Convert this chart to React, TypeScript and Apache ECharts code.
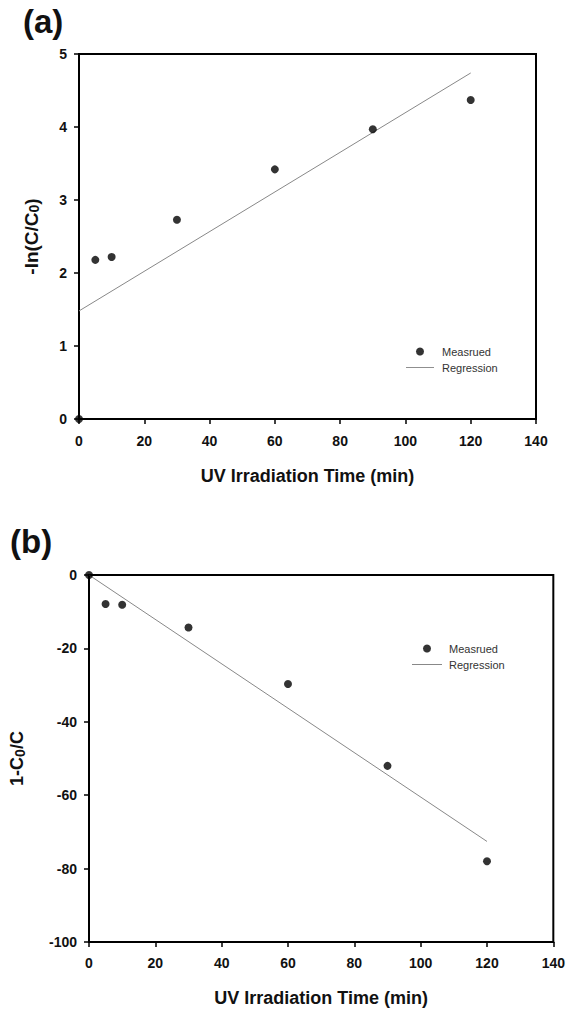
import React, { useEffect, useRef } from "react";
import * as echarts from "echarts";

// Panel (a): -ln(C/C0) vs time
const timeA = [0, 5, 10, 30, 60, 90, 120];
const measuredA = [0, 2.18, 2.22, 2.73, 3.42, 3.97, 4.37];
const regressionTimeA = [0, 120];
const regressionA = [1.48, 4.74];

// Panel (b): 1-C0/C vs time
const timeB = [0, 5, 10, 30, 60, 90, 120];
const measuredB = [0, -7.9, -8.1, -14.3, -29.7, -52, -78];
const regressionTimeB = [0, 120];
const regressionB = [0, -72.6];

const FONT = "Liberation Sans, Arial, sans-serif";
const LINE_ICON = "path://M0,0 L30,0 L30,1 L0,1 Z";

export default function App() {
  const ref = useRef<HTMLDivElement>(null);
  useEffect(() => {
    document.body.style.margin = "0";
    const chart = echarts.init(ref.current!, null, { renderer: "svg" });
    const axisCommon = {
      axisLine: { show: true, onZero: false, lineStyle: { color: "#000", width: 2 } },
      axisTick: { show: true, inside: false, length: 5, lineStyle: { color: "#000", width: 1.5 } },
      splitLine: { show: false },
      axisLabel: { color: "#111", fontFamily: FONT, fontWeight: "bold" as const, fontSize: 14 },
      nameLocation: "middle" as const,
    };
    const pairs = (xs: number[], ys: number[]) => xs.map((x, i) => [x, ys[i]]);
    const legendData = [
      { name: "Measrued", icon: "circle", itemStyle: { color: "#000" } },
      { name: "Regression", icon: LINE_ICON, itemStyle: { color: "#888" } },
    ];
    chart.setOption({
      animation: false,
      backgroundColor: "#fff",
      textStyle: { fontFamily: FONT },
      title: [
        { text: "(a)", left: 23, top: 5, padding: 0, textStyle: { fontSize: 33, fontWeight: "bold", color: "#111", fontFamily: FONT } },
        { text: "(b)", left: 10, top: 525, padding: 0, textStyle: { fontSize: 33, fontWeight: "bold", color: "#111", fontFamily: FONT } },
      ],
      grid: [
        { left: 79, top: 54, width: 457, height: 365, show: true, borderColor: "#000", borderWidth: 2, containLabel: false },
        { left: 89, top: 575, width: 465, height: 367, show: true, borderColor: "#000", borderWidth: 2, containLabel: false },
      ],
      legend: [
        {
          data: legendData,
          orient: "vertical", left: 406, top: 346, padding: 0, itemWidth: 28, itemHeight: 8, itemGap: 5,
          textStyle: { fontSize: 11, color: "#333", fontFamily: FONT, padding: [0, 0, 0, 3] },
          selectedMode: false,
        },
        {
          data: legendData,
          orient: "vertical", left: 412, top: 643, padding: 0, itemWidth: 30, itemHeight: 8, itemGap: 5,
          textStyle: { fontSize: 11, color: "#333", fontFamily: FONT, padding: [0, 0, 0, 2] },
          selectedMode: false,
        },
      ],
      xAxis: [
        {
          ...axisCommon, type: "value", gridIndex: 0, min: 0, max: 140, interval: 20,
          axisLabel: { ...axisCommon.axisLabel, margin: 15 },
          name: "UV Irradiation Time (min)", nameGap: 48,
          nameTextStyle: { fontSize: 18, fontWeight: "bold", color: "#111", fontFamily: FONT },
        },
        {
          ...axisCommon, type: "value", gridIndex: 1, min: 0, max: 140, interval: 20,
          axisLabel: { ...axisCommon.axisLabel, margin: 14 },
          name: "UV Irradiation Time (min)", nameGap: 47,
          nameTextStyle: { fontSize: 18, fontWeight: "bold", color: "#111", fontFamily: FONT },
        },
      ],
      yAxis: [
        {
          ...axisCommon, type: "value", gridIndex: 0, min: 0, max: 5, interval: 1,
          axisLabel: { ...axisCommon.axisLabel, margin: 12 },
          name: "{m|-ln(C/C}{s|0}{m|)}", nameGap: 38,
          nameTextStyle: {
            rich: {
              m: { fontSize: 19, fontWeight: "bold", color: "#111", fontFamily: FONT },
              s: { fontSize: 14, fontWeight: "bold", color: "#111", fontFamily: FONT, padding: [6, 0, 0, 0] },
            },
          },
        },
        {
          ...axisCommon, type: "value", gridIndex: 1, min: -100, max: 0, interval: 20,
          axisLabel: { ...axisCommon.axisLabel, margin: 12 },
          name: "{m|1-C}{s|0}{m|/C}", nameGap: 62,
          nameTextStyle: {
            rich: {
              m: { fontSize: 18, fontWeight: "bold", color: "#111", fontFamily: FONT },
              s: { fontSize: 14, fontWeight: "bold", color: "#111", fontFamily: FONT, padding: [6, 0, 0, 0] },
            },
          },
        },
      ],
      series: [
        {
          name: "Regression", type: "line", xAxisIndex: 0, yAxisIndex: 0,
          data: pairs(regressionTimeA, regressionA), showSymbol: false, symbol: "none",
          lineStyle: { color: "#888", width: 1 }, itemStyle: { color: "#888" }, z: 2,
        },
        {
          name: "Measrued", type: "scatter", xAxisIndex: 0, yAxisIndex: 0,
          data: pairs(timeA, measuredA), symbolSize: 8, clip: false,
          itemStyle: { color: "#000" }, z: 3,
        },
        {
          name: "Regression", type: "line", xAxisIndex: 1, yAxisIndex: 1,
          data: pairs(regressionTimeB, regressionB), showSymbol: false, symbol: "none",
          lineStyle: { color: "#888", width: 1 }, itemStyle: { color: "#888" }, z: 2,
        },
        {
          name: "Measrued", type: "scatter", xAxisIndex: 1, yAxisIndex: 1,
          data: pairs(timeB, measuredB), symbolSize: 8, clip: false,
          itemStyle: { color: "#000" }, z: 3,
        },
      ],
    });
    return () => chart.dispose();
  }, []);
  return <div ref={ref} style={{ width: 568, height: 1014 }} />;
}
